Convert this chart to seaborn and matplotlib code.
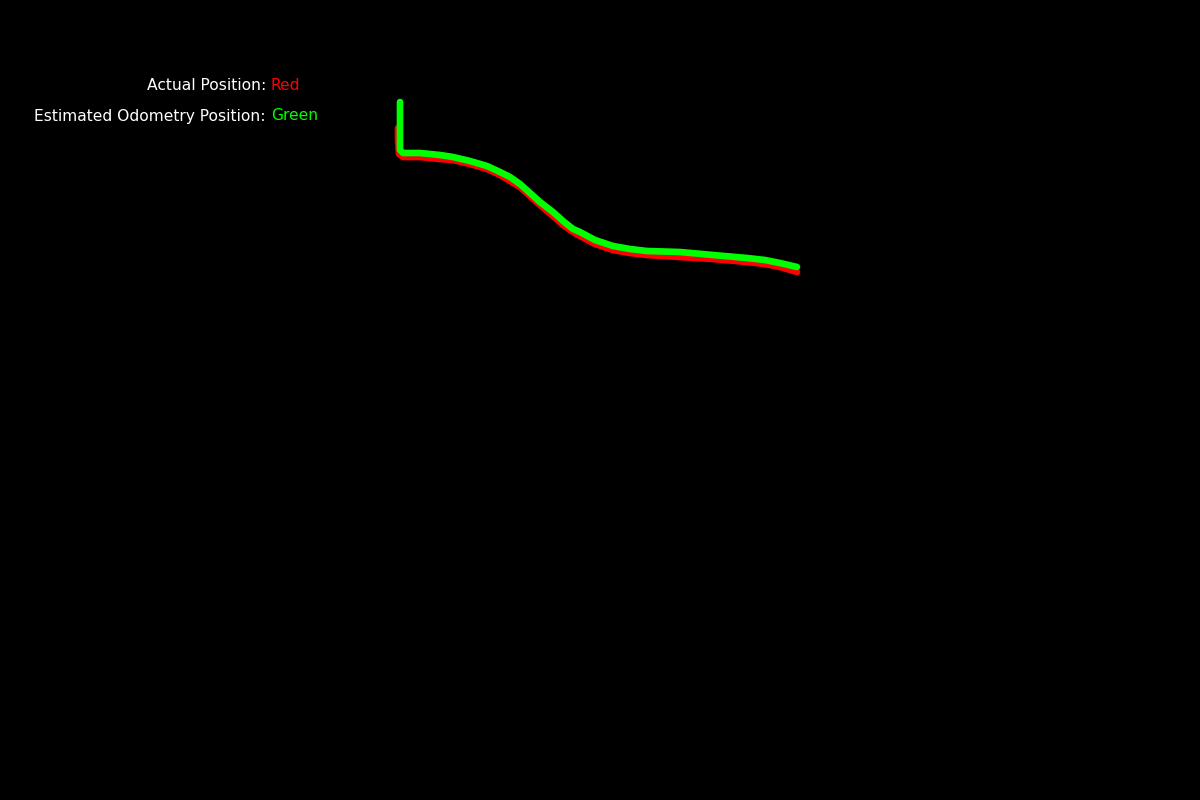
import matplotlib
matplotlib.use("Agg")
import matplotlib.pyplot as plt
import seaborn as sns
import pandas as pd

# Actual position (red) path, pixel coordinates
actual_x = [398, 398, 399, 403, 420, 440, 453, 470, 487, 500, 510, 520, 530, 540, 553, 563, 573, 580, 595, 613, 630, 647, 680, 713, 747, 765, 780, 797]
actual_y = [128, 140, 154, 157, 157, 159, 160, 164, 169, 175, 181, 187, 196, 205, 216, 225, 232, 236, 244, 250, 253, 255, 257, 259, 262, 264, 267, 272]

# Estimated odometry position (green) path
odo_x = [400, 400, 400, 403, 410, 420, 440, 453, 470, 487, 500, 510, 520, 530, 540, 553, 563, 573, 580, 595, 613, 630, 647, 680, 713, 747, 765, 780, 797]
odo_y = [102, 125, 150, 153, 153, 153, 155, 157, 161, 166, 172, 177, 184, 193, 202, 212, 221, 229, 232, 240, 246, 249, 251, 252, 255, 258, 260, 263, 267]

label_texts = ["Actual Position:", "Estimated Odometry Position:"]
label_colors = ["Red", "Green"]

sns.set_theme(style="dark")
plt.rcParams['font.family'] = ['DejaVu Sans']

fig = plt.figure(figsize=(12, 8), dpi=100, facecolor="black")
ax = fig.add_axes([0, 0, 1, 1])
ax.set_facecolor("black")

df_a = pd.DataFrame({"x": actual_x, "y": actual_y})
df_o = pd.DataFrame({"x": odo_x, "y": odo_y})
sns.lineplot(data=df_a, x="x", y="y", sort=False, estimator=None, color="#ff0000",
             linewidth=4.8, ax=ax, solid_capstyle="round", solid_joinstyle="round")
sns.lineplot(data=df_o, x="x", y="y", sort=False, estimator=None, color="#00ff00",
             linewidth=4.8, ax=ax, solid_capstyle="round", solid_joinstyle="round")

ax.set_xlim(0, 1200)
ax.set_ylim(800, 0)
ax.set_axis_off()

ys = [86, 116]
cols = {"Red": "#ff0000", "Green": "#00ff00"}
for t, c, y in zip(label_texts, label_colors, ys):
    ax.text(266, y, t, color="white", fontsize=11.2, ha="right", va="center")
    ax.text(271, y, c, color=cols[c], fontsize=11.2, ha="left", va="center")

fig.savefig("out.png", dpi=100, facecolor="black")
